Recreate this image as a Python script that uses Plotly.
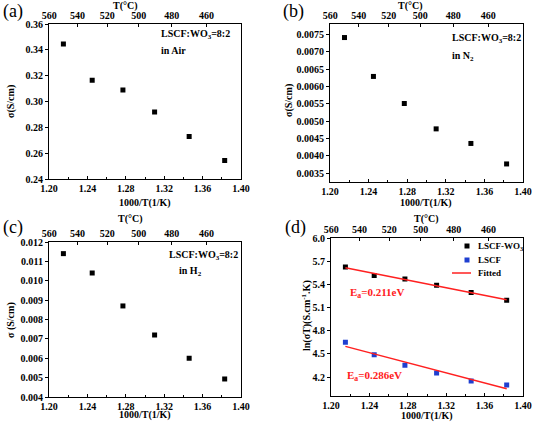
import numpy as np
import plotly.graph_objects as go

# ---------------- data ----------------
inv_T = [1.215, 1.245, 1.277, 1.310, 1.346, 1.383]      # 1000/T (1/K)
sigma_air = [0.3445, 0.3165, 0.309, 0.292, 0.273, 0.2545]   # S/cm
sigma_n2 = [0.00741, 0.00629, 0.00551, 0.00478, 0.00436, 0.00377]
sigma_h2 = [0.0114, 0.0104, 0.0087, 0.0072, 0.0060, 0.00493]
ln_sT_lscf_wo3 = [5.625, 5.515, 5.47, 5.39, 5.295, 5.195]
ln_sT_lscf = [4.65, 4.49, 4.355, 4.255, 4.15, 4.10]
top_T_labels = [560, 540, 520, 500, 480, 460]   # °C
ea_labels = ["E<sub>a</sub>=0.211eV", "E<sub>a</sub>=0.286eV"]
legend_names = ["LSCF-WO<sub>3</sub>", "LSCF", "Fitted"]
ytitles = ["σ(S/cm)", "σ(S/cm)", "σ (S/cm)", "ln(σT)(S.cm<sup>-1</sup>.K)"]
xtitle = "1000/T(1/K)"
toptitle = "T(°C)"

W, H = 534, 426
FONT = "Liberation Serif"
BLUE = "#1f3fd0"
RED = "#ff2020"

def px_x(p):
    return p / W

def px_y(p):
    return 1 - p / H

# panel boxes in pixels: (left, right, top, bottom)
boxes = {
    1: (49, 241, 24, 179.3),
    2: (330, 523, 24, 182),
    3: (49, 241, 242, 397),
    4: (331, 523, 238, 395.7),
}
yranges = {1: [0.24, 0.36], 2: [0.00325, 0.0078], 3: [0.004, 0.012], 4: [3.96, 6.0]}
ydtick = {1: 0.02, 2: 0.0005, 3: 0.001, 4: 0.3}
ytick0 = {1: 0.24, 2: 0.0035, 3: 0.004, 4: 4.2}
yfmt = {1: ".2f", 2: ".4f", 3: ".3f", 4: ".1f"}

xrange_ = [1.20, 1.40]
top_vals = [1000.0 / (t + 273.15) for t in top_T_labels]

fig = go.Figure()
tickfont = dict(family=FONT, size=10, color="black", weight="bold")

layout = {}
for i in range(1, 5):
    l, r, t, b = boxes[i]
    xa = f"xaxis{i}" if i > 1 else "xaxis"
    ya = f"yaxis{i}" if i > 1 else "yaxis"
    xt = f"xaxis{i+4}"
    layout[xa] = dict(
        domain=[px_x(l), px_x(r)], anchor=f"y{i}", range=xrange_, automargin=False,
        showline=True, linecolor="black", linewidth=1.2, mirror=False,
        ticks="inside", ticklen=3, tickwidth=1, tickcolor="black",
        dtick=0.04, tick0=1.2, tickformat=".2f", tickfont=tickfont,
        minor=dict(ticks="inside", ticklen=2, dtick=0.02, tickcolor="black"),
        showgrid=False, zeroline=False,
    )
    layout[ya] = dict(
        domain=[px_y(b), px_y(t)], anchor=f"x{i}", range=yranges[i], automargin=False,
        showline=True, linecolor="black", linewidth=1.2, mirror=True,
        ticks="outside", ticklen=3, tickwidth=1, tickcolor="black",
        dtick=ydtick[i], tick0=ytick0[i],
        tickformat=yfmt[i], tickfont=tickfont,
        showgrid=False, zeroline=False,
    )
    layout[xt] = dict(
        overlaying=f"x{i}" if i > 1 else "x", anchor=f"y{i}", side="top", automargin=False,
        range=xrange_, showline=True, linecolor="black", linewidth=1.2,
        tickmode="array", tickvals=top_vals, ticktext=[str(v) for v in top_T_labels],
        ticks="inside", ticklen=3, tickcolor="black", tickfont=tickfont,
        showgrid=False, zeroline=False,
    )
    # invisible trace so that the top axis renders
    fig.add_trace(go.Scatter(x=xrange_, y=yranges[i], xaxis=f"x{i+4}", yaxis=f"y{i}",
                             mode="markers", marker=dict(opacity=0), showlegend=False,
                             hoverinfo="skip"))

sq = dict(symbol="square", size=5, color="black")
for i, ys in zip([1, 2, 3], [sigma_air, sigma_n2, sigma_h2]):
    fig.add_trace(go.Scatter(x=inv_T, y=ys, xaxis=f"x{i}", yaxis=f"y{i}",
                             mode="markers", marker=sq, showlegend=False))

# panel d
fig.add_trace(go.Scatter(x=inv_T, y=ln_sT_lscf_wo3, xaxis="x4", yaxis="y4", mode="markers",
                         marker=sq, name=legend_names[0], showlegend=False))
fig.add_trace(go.Scatter(x=inv_T, y=ln_sT_lscf, xaxis="x4", yaxis="y4", mode="markers",
                         marker=dict(symbol="square", size=5, color=BLUE), name=legend_names[1],
                         showlegend=False))
for k, ys in enumerate([ln_sT_lscf_wo3, ln_sT_lscf]):
    m, c = np.polyfit(inv_T, ys, 1)
    xf = [inv_T[0], inv_T[-1]]
    fig.add_trace(go.Scatter(x=xf, y=[m * v + c for v in xf], xaxis="x4", yaxis="y4",
                             mode="lines", line=dict(color=RED, width=1.5),
                             name=legend_names[2], showlegend=False))

ann = []
def add_text(txt, xp, yp, size=10, color="black", xanchor="left", bold=True, angle=0):
    ann.append(dict(text=txt, x=px_x(xp), y=px_y(yp), xref="paper", yref="paper",
                    xanchor=xanchor, yanchor="middle", showarrow=False, textangle=angle,
                    font=dict(family=FONT, size=size, color=color,
                              weight="bold" if bold else "normal")))

# panel letters
add_text("(a)", 1, 12, size=18, bold=False)
add_text("(b)", 281, 12, size=18, bold=False)
add_text("(c)", 1, 228, size=18, bold=False)
add_text("(d)", 283, 228, size=18, bold=False)

# axis titles
for (xc, yb), (xt_, yt) in zip([(145, 203), (426, 203), (145, 415), (427, 416)],
                               [(125, 6), (410, 6), (130, 219), (426, 219)]):
    add_text(xtitle, xc, yb, xanchor="center")
    add_text(toptitle, xt_, yt, xanchor="center")
for ttl, (xx, yy) in zip(ytitles, [(11, 101), (289, 101), (11, 320), (306, 316)]):
    add_text(ttl, xx, yy, xanchor="center", angle=-90)

# in-panel labels
add_text("LSCF:WO<sub>3</sub>=8:2", 159, 35)
add_text("in Air", 159, 51)
add_text("LSCF:WO<sub>3</sub>=8:2", 450, 39)
add_text("in N<sub>2</sub>", 450, 56)
add_text("LSCF:WO<sub>3</sub>=8:2", 167, 255)
add_text("in H<sub>2</sub>", 177, 271)
add_text(ea_labels[0], 348, 293, size=11, color=RED)
add_text(ea_labels[1], 345, 376, size=11, color=RED)

# legend for panel d
leg_rows = [246, 260, 273]
for name, yy in zip(legend_names, leg_rows):
    add_text(name, 476, yy, size=9)
shapes = [
    dict(type="rect", xref="paper", yref="paper", x0=px_x(464.5), x1=px_x(469.5),
         y0=px_y(leg_rows[0] + 2.5), y1=px_y(leg_rows[0] - 2.5), fillcolor="black", line=dict(width=0)),
    dict(type="rect", xref="paper", yref="paper", x0=px_x(464.5), x1=px_x(469.5),
         y0=px_y(leg_rows[1] + 2.5), y1=px_y(leg_rows[1] - 2.5), fillcolor=BLUE, line=dict(width=0)),
    dict(type="line", xref="paper", yref="paper", x0=px_x(452), x1=px_x(471),
         y0=px_y(leg_rows[2]), y1=px_y(leg_rows[2]), line=dict(color=RED, width=1.5)),
]

fig.update_layout(
    **layout,
    annotations=ann,
    shapes=shapes,
    width=W, height=H,
    margin=dict(l=0, r=0, t=0, b=0),
    paper_bgcolor="white", plot_bgcolor="white",
    showlegend=False,
)

# remove the page's default 8 px body margin so the figure fills the window exactly
fig.write_html("out.html", config={"displayModeBar": False},
               post_script="document.body.style.margin='0px';")
